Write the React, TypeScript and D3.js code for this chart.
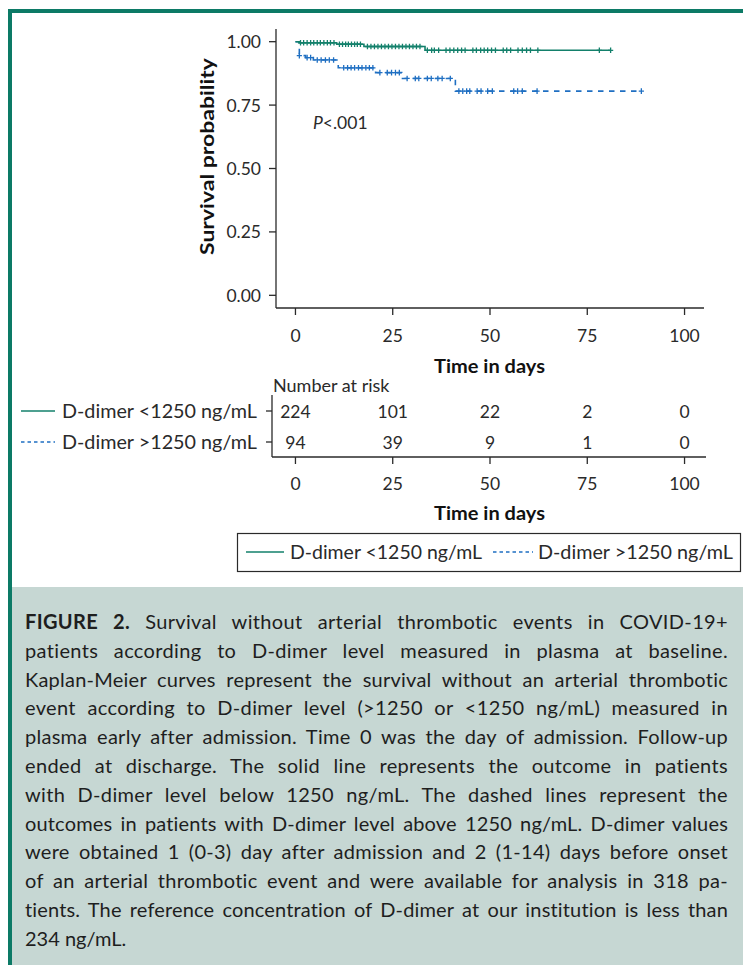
import React, { useEffect, useRef } from "react";
import * as d3 from "d3";

// ---------- data ----------
const xTicks = [0, 25, 50, 75, 100];
const yTicks = [0, 0.25, 0.5, 0.75, 1];
const yTickLabels = ["0.00", "0.25", "0.50", "0.75", "1.00"];
const groupNames = ["D-dimer <1250 ng/mL", "D-dimer >1250 ng/mL"];

// Kaplan-Meier step points (time in days, survival)
const lowTimes = [0, 1.0, 10.6, 17.6, 33.3, 81.0];
const lowSurv = [1, 0.9955, 0.99, 0.981, 0.966, 0.966];
const lowCensor = [
  1.3, 2.1, 3.0, 3.9, 4.7, 5.6, 6.4, 7.3, 8.2, 9.0, 9.9,
  11.3, 12.1, 12.9, 13.6, 14.4, 15.2, 15.9, 16.7,
  18.5, 19.4, 20.3, 21.2, 22.1, 23.0, 23.9, 24.8, 25.7, 26.6, 27.5, 28.4, 29.3, 30.2, 31.1, 32.0,
  33.9, 35.0, 35.7, 36.8, 38.7, 39.7, 40.7, 41.7, 42.7, 43.6, 45.6, 46.5, 47.6, 48.5, 49.4,
  50.4, 51.4, 53.4, 54.3, 55.3, 57.2, 58.3, 59.4, 60.4, 62.3, 78.1, 81.0,
];

const highTimes = [0, 1.0, 2.6, 4.6, 11.0, 20.6, 27.3, 41.1, 88.9];
const highSurv = [1, 0.945, 0.937, 0.928, 0.897, 0.878, 0.855, 0.805, 0.805];
const highCensor = [
  1.0, 3.0, 3.9, 5.6, 6.6, 7.7, 8.7, 9.8, 12.4, 13.4, 14.3, 15.2, 16.2, 17.1, 18.1, 19.0, 19.9,
  21.7, 23.6, 24.7, 25.7, 26.7, 28.7, 30.8, 31.7, 33.9, 34.9, 36.6, 37.7, 39.8,
  42.0, 43.0, 44.0, 44.8, 46.7, 47.7, 49.4, 50.6, 56.1, 57.1, 58.3, 62.1, 88.9,
];

const riskLow = [224, 101, 22, 2, 0];
const riskHigh = [94, 39, 9, 1, 0];

const captionLines = [
  "Survival without arterial thrombotic events in COVID-19+",
  "patients according to D-dimer level measured in plasma at baseline.",
  "Kaplan-Meier curves represent the survival without an arterial thrombotic",
  "event according to D-dimer level (>1250 or <1250 ng/mL) measured in",
  "plasma early after admission. Time 0 was the day of admission. Follow-up",
  "ended at discharge. The solid line represents the outcome in patients",
  "with D-dimer level below 1250 ng/mL. The dashed lines represent the",
  "outcomes in patients with D-dimer level above 1250 ng/mL. D-dimer values",
  "were obtained 1 (0-3) day after admission and 2 (1-14) days before onset",
  "of an arterial thrombotic event and were available for analysis in 318 pa-",
  "tients. The reference concentration of D-dimer at our institution is less than",
  "234 ng/mL.",
];

// ---------- styles ----------
const W = 743;
const H = 965;
const FONT = "Lato, 'Open Sans', 'DejaVu Sans', sans-serif";
const GREEN = "#13806b";
const BLUE = "#1f6fc2";
const TEAL = "#0c7a66";
const CAPTION_BG = "#c6d7d3";
const INK = "#2a2a2a";

function survAt(times: number[], surv: number[], t: number) {
  let s = surv[0];
  for (let i = 0; i < times.length; i++) if (times[i] <= t) s = surv[i];
  return s;
}

export default function App() {
  const svgRef = useRef<SVGSVGElement | null>(null);

  const x = d3.scaleLinear().domain([-5, 105]).range([276, 704]);
  const y = d3.scaleLinear().domain([-0.05, 1.05]).range([308, 29]);

  const line = d3
    .line<[number, number]>()
    .x((d) => x(d[0]))
    .y((d) => y(d[1]))
    .curve(d3.curveStepAfter);

  const lowPts = lowTimes.map((t, i) => [t, lowSurv[i]] as [number, number]);
  const highPts = highTimes.map((t, i) => [t, highSurv[i]] as [number, number]);

  const captionX0 = 25;
  const captionX1 = 728;
  const captionY0 = 621;
  const captionDy = 28.8;

  useEffect(() => {
    const svg = d3.select(svgRef.current);
    svg.selectAll<SVGTextElement, unknown>("text.just").each(function () {
      const node = this;
      node.setAttribute("word-spacing", "0");
      node.setAttribute("letter-spacing", "0");
      const w = node.getComputedTextLength();
      const txt = node.textContent || "";
      const spaces = (txt.match(/ /g) || []).length;
      const chars = txt.length;
      let extra = captionX1 - captionX0 - w;
      const ls = Math.max(-0.3, Math.min(0.35, (extra * 0.3) / chars));
      node.setAttribute("letter-spacing", String(ls));
      const w2 = node.getComputedTextLength();
      extra = captionX1 - captionX0 - w2;
      if (spaces > 0) node.setAttribute("word-spacing", String(extra / spaces));
    });
  }, []);

  const plus = (cx: number, cy: number) =>
    `M${cx - 2.6},${cy}h5.2M${cx},${cy - 2.8}v5.6`;

  const riskRowY = [411, 442];
  const FS = 17.5;

  return (
    <div style={{ position: "absolute", left: 0, top: 0 }}>
      <svg ref={svgRef} width={W} height={H} style={{ display: "block" }} fontFamily={FONT}>
        {/* frame */}
        <rect x={0} y={0} width={W} height={H} fill="#ffffff" />
        <rect x={12} y={587} width={W - 12} height={H - 587} fill={CAPTION_BG} />
        <rect x={8} y={9} width={W - 8} height={4} fill={TEAL} />
        <rect x={8} y={9} width={4} height={H - 9} fill={TEAL} />

        {/* ---------- survival plot ---------- */}
        <line x1={276} x2={276} y1={29} y2={308} stroke={INK} strokeWidth={1.3} />
        <line x1={276} x2={704} y1={308} y2={308} stroke={INK} strokeWidth={1.3} />
        {yTicks.map((v, i) => (
          <g key={"yt" + i}>
            <line x1={269} x2={276} y1={y(v)} y2={y(v)} stroke={INK} strokeWidth={1.3} />
            <text x={261} y={y(v)} textAnchor="end" dominantBaseline="central" fontSize={FS} fill={INK}>
              {yTickLabels[i]}
            </text>
          </g>
        ))}
        {xTicks.map((v) => (
          <g key={"xt" + v}>
            <line x1={x(v)} x2={x(v)} y1={308} y2={315} stroke={INK} strokeWidth={1.3} />
            <text x={x(v)} y={335} textAnchor="middle" dominantBaseline="central" fontSize={FS} fill={INK}>
              {v}
            </text>
          </g>
        ))}
        <text
          x={434}
          y={366}
          dominantBaseline="central"
          fontSize={18}
          fontWeight="bold"
          fill="#111"
          textLength={111}
          lengthAdjust="spacingAndGlyphs"
        >
          Time in days
        </text>
        <text
          transform={`translate(206,255) rotate(-90)`}
          dominantBaseline="central"
          fontSize={19}
          fontWeight="bold"
          fill="#111"
          textLength={197}
          lengthAdjust="spacingAndGlyphs"
        >
          Survival probability
        </text>
        <text x={313} y={122} dominantBaseline="central" fontSize={FS} fill={INK}>
          <tspan fontStyle="italic">P</tspan>{"<.001"}
        </text>

        {/* curves */}
        <path d={line(highPts) || ""} fill="none" stroke={BLUE} strokeWidth={1.6} strokeDasharray="5.5 5.5" />
        {highCensor.map((t, i) => (
          <path key={"hc" + i} d={plus(x(t), y(survAt(highTimes, highSurv, t)))} stroke={BLUE} strokeWidth={1.3} fill="none" />
        ))}
        <path d={line(lowPts) || ""} fill="none" stroke={GREEN} strokeWidth={1.6} />
        {lowCensor.map((t, i) => (
          <path key={"lc" + i} d={plus(x(t), y(survAt(lowTimes, lowSurv, t)))} stroke={GREEN} strokeWidth={1.3} fill="none" />
        ))}

        {/* ---------- risk table ---------- */}
        <text x={273} y={385} dominantBaseline="central" fontSize={18} fill={INK}>
          Number at risk
        </text>
        <line x1={272} x2={272} y1={395} y2={457} stroke={INK} strokeWidth={1.3} />
        <line x1={272} x2={706} y1={457} y2={457} stroke={INK} strokeWidth={1.3} />
        {groupNames.map((g, gi) => (
          <g key={"rg" + gi}>
            <line x1={266} x2={272} y1={riskRowY[gi]} y2={riskRowY[gi]} stroke={INK} strokeWidth={1.3} />
            <text
              x={62}
              y={riskRowY[gi]}
              dominantBaseline="central"
              fontSize={18.5}
              fill={INK}
              textLength={195}
              lengthAdjust="spacingAndGlyphs"
            >
              {g}
            </text>
            <line
              x1={21}
              x2={55}
              y1={riskRowY[gi]}
              y2={riskRowY[gi]}
              stroke={gi === 0 ? GREEN : BLUE}
              strokeWidth={1.3}
              strokeDasharray={gi === 0 ? undefined : "3.5 3"}
            />
          </g>
        ))}
        {xTicks.map((v, i) => (
          <g key={"rt" + v}>
            <text x={x(v)} y={riskRowY[0]} textAnchor="middle" dominantBaseline="central" fontSize={FS} fill={INK}>
              {riskLow[i]}
            </text>
            <text x={x(v)} y={riskRowY[1]} textAnchor="middle" dominantBaseline="central" fontSize={FS} fill={INK}>
              {riskHigh[i]}
            </text>
            <line x1={x(v)} x2={x(v)} y1={457} y2={464} stroke={INK} strokeWidth={1.3} />
            <text x={x(v)} y={483} textAnchor="middle" dominantBaseline="central" fontSize={FS} fill={INK}>
              {v}
            </text>
          </g>
        ))}
        <text
          x={434}
          y={513}
          dominantBaseline="central"
          fontSize={18}
          fontWeight="bold"
          fill="#111"
          textLength={111}
          lengthAdjust="spacingAndGlyphs"
        >
          Time in days
        </text>

        {/* ---------- legend ---------- */}
        <rect x={237.5} y={533.5} width={503} height={38} fill="#fff" stroke={INK} strokeWidth={1.2} />
        <line x1={246} x2={284} y1={552} y2={552} stroke={GREEN} strokeWidth={1.3} />
        <text x={290} y={552} dominantBaseline="central" fontSize={18.5} fill={INK} textLength={192} lengthAdjust="spacingAndGlyphs">
          {groupNames[0]}
        </text>
        <line x1={493} x2={533} y1={552} y2={552} stroke={BLUE} strokeWidth={1.3} strokeDasharray="3.5 3" />
        <text x={538} y={552} dominantBaseline="central" fontSize={18.5} fill={INK} textLength={195} lengthAdjust="spacingAndGlyphs">
          {groupNames[1]}
        </text>

        {/* ---------- caption ---------- */}
        {captionLines.map((ln, i) => {
          const last = i === captionLines.length - 1;
          return (
            <text
              key={"cap" + i}
              className={last ? "" : "just"}
              x={captionX0}
              y={captionY0 + i * captionDy}
              dominantBaseline="central"
              fontSize={20}
              fill="#1e1e1e"
            >
              {i === 0 ? (
                <>
                  <tspan fontWeight="bold">FIGURE 2.</tspan>
                  {" " + ln}
                </>
              ) : (
                ln
              )}
            </text>
          );
        })}
      </svg>
    </div>
  );
}
